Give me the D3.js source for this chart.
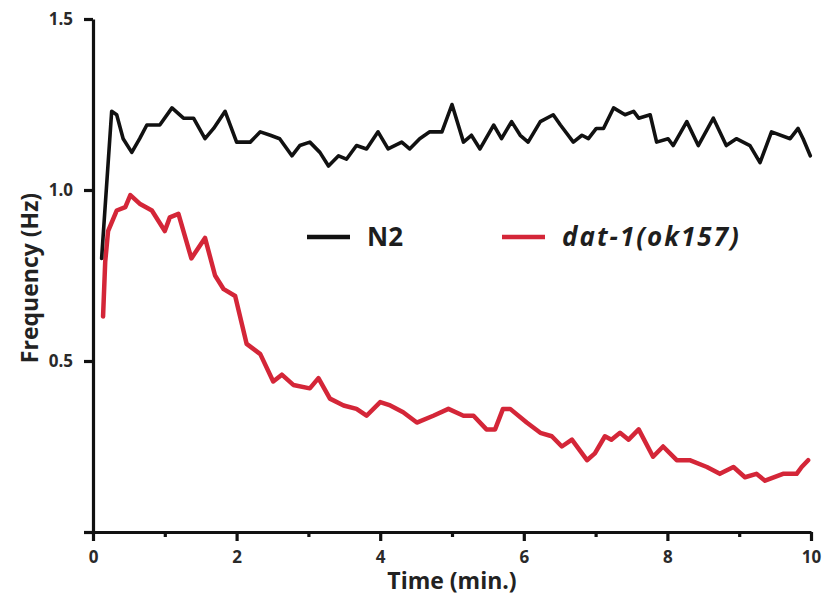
<!DOCTYPE html>
<html>
<head>
<meta charset="utf-8">
<script src="https://cdn.jsdelivr.net/npm/d3@7"></script>
<style>
  html, body { margin: 0; padding: 0; background: #fff; }
  svg { display: block; }
  text { font-family: "Open Sans", "Noto Sans", sans-serif; }
</style>
</head>
<body>
<svg id="chart" width="822" height="601"></svg>
<script>
// Wild-type N2 bending frequency over time
const n2Time = [0.12, 0.26, 0.33, 0.42, 0.54, 0.65, 0.75, 0.93, 1.10, 1.26, 1.40, 1.56, 1.68, 1.84, 2.00,
  2.19, 2.33, 2.47, 2.60, 2.77, 2.88, 3.02, 3.16, 3.28, 3.42, 3.53, 3.67, 3.81, 3.97, 4.11, 4.30, 4.41,
  4.55, 4.69, 4.86, 5.00, 5.16, 5.27, 5.39, 5.58, 5.69, 5.83, 5.95, 6.06, 6.23, 6.41, 6.51, 6.69, 6.81,
  6.90, 7.01, 7.11, 7.25, 7.41, 7.53, 7.60, 7.76, 7.85, 8.01, 8.08, 8.27, 8.43, 8.64, 8.82, 8.96, 9.15,
  9.29, 9.45, 9.71, 9.82, 9.89, 9.99];
const n2Freq = [0.80, 1.23, 1.22, 1.15, 1.11, 1.15, 1.19, 1.19, 1.24, 1.21, 1.21, 1.15, 1.18, 1.23, 1.14,
  1.14, 1.17, 1.16, 1.15, 1.10, 1.13, 1.14, 1.11, 1.07, 1.10, 1.09, 1.13, 1.12, 1.17, 1.12, 1.14, 1.12,
  1.15, 1.17, 1.17, 1.25, 1.14, 1.16, 1.12, 1.19, 1.15, 1.20, 1.16, 1.14, 1.20, 1.22, 1.19, 1.14, 1.16,
  1.15, 1.18, 1.18, 1.24, 1.22, 1.23, 1.21, 1.22, 1.14, 1.15, 1.13, 1.20, 1.13, 1.21, 1.13, 1.15, 1.13,
  1.08, 1.17, 1.15, 1.18, 1.15, 1.10];

// dat-1(ok157) mutant bending frequency over time
const datTime = [0.14, 0.17, 0.21, 0.33, 0.45, 0.52, 0.65, 0.82, 1.00, 1.07, 1.19, 1.37, 1.56, 1.70, 1.82,
  1.98, 2.14, 2.33, 2.51, 2.63, 2.79, 3.02, 3.14, 3.30, 3.49, 3.67, 3.81, 4.00, 4.14, 4.32, 4.51, 4.74,
  4.95, 5.16, 5.30, 5.48, 5.60, 5.71, 5.81, 6.04, 6.23, 6.39, 6.53, 6.67, 6.88, 6.99, 7.13, 7.22, 7.34,
  7.46, 7.60, 7.80, 7.94, 8.13, 8.31, 8.55, 8.73, 8.92, 9.08, 9.24, 9.36, 9.61, 9.80, 9.87, 9.96];
const datFreq = [0.63, 0.79, 0.88, 0.94, 0.95, 0.985, 0.96, 0.94, 0.88, 0.92, 0.93, 0.80, 0.86, 0.75, 0.71,
  0.69, 0.55, 0.52, 0.44, 0.46, 0.43, 0.42, 0.45, 0.39, 0.37, 0.36, 0.34, 0.38, 0.37, 0.35, 0.32, 0.34,
  0.36, 0.34, 0.34, 0.30, 0.30, 0.36, 0.36, 0.32, 0.29, 0.28, 0.25, 0.27, 0.21, 0.23, 0.28, 0.27, 0.29,
  0.27, 0.30, 0.22, 0.25, 0.21, 0.21, 0.19, 0.17, 0.19, 0.16, 0.17, 0.15, 0.17, 0.17, 0.19, 0.21];

const xMajorTicks = [0, 2, 4, 6, 8, 10];
const xMinorTicks = [1, 3, 5, 7, 9];
const yTicks = [0, 0.5, 1.0, 1.5];
const yTickLabels = ["", "0.5", "1.0", "1.5"];

const seriesNames = ["N2", "dat-1(ok157)"];
const seriesColors = ["#111111", "#d42638"];

const svg = d3.select("#chart");
const x = d3.scaleLinear().domain([0, 10]).range([93, 811]);
const y = d3.scaleLinear().domain([0, 1.5]).range([532, 19]);

// axes
const axisColor = "#111";
const yAxis = svg.append("g").attr("transform", `translate(${x(0)},0)`)
  .call(d3.axisLeft(y).tickValues(yTicks).tickSize(9).tickSizeOuter(0).tickPadding(11)
    .tickFormat((d, i) => yTickLabels[i]));
const xMinor = svg.append("g").attr("transform", `translate(0,${y(0)})`)
  .call(d3.axisBottom(x).tickValues(xMinorTicks).tickSize(5).tickSizeOuter(0).tickFormat(""));
const xAxis = svg.append("g").attr("transform", `translate(0,${y(0)})`)
  .call(d3.axisBottom(x).tickValues(xMajorTicks).tickSize(9).tickSizeOuter(0).tickPadding(10)
    .tickFormat(d3.format("d")));

[yAxis, xMinor, xAxis].forEach(g => {
  g.selectAll("path.domain").attr("stroke", axisColor).attr("stroke-width", 3.2);
  g.selectAll(".tick line").attr("stroke", axisColor).attr("stroke-width", 3.2);
  g.selectAll(".tick text").attr("fill", "#2a2a2a")
    .style("font-size", "17px").style("font-weight", "700")
    .style("font-family", "'Open Sans', sans-serif");
});
xMinor.select("path.domain").remove();

// axis titles
svg.append("text")
  .attr("x", 452).attr("y", 589)
  .attr("text-anchor", "middle")
  .style("font-size", "23px").style("font-weight", "700").attr("fill", "#222")
  .text("Time (min.)");
svg.append("text")
  .attr("transform", "translate(38,278) rotate(-90)")
  .attr("text-anchor", "middle")
  .style("font-size", "23px").style("font-weight", "700").attr("fill", "#222")
  .text("Frequency (Hz)");

// series lines
const line = d3.line().x(d => x(d[0])).y(d => y(d[1]));
const n2Data = n2Time.map((t, i) => [t, n2Freq[i]]);
const datData = datTime.map((t, i) => [t, datFreq[i]]);

svg.append("path").datum(datData)
  .attr("d", line).attr("fill", "none")
  .attr("stroke", seriesColors[1]).attr("stroke-width", 4.5)
  .attr("stroke-linejoin", "round").attr("stroke-linecap", "round");
svg.append("path").datum(n2Data)
  .attr("d", line).attr("fill", "none")
  .attr("stroke", seriesColors[0]).attr("stroke-width", 3.6)
  .attr("stroke-linejoin", "round").attr("stroke-linecap", "round");

// legend
const legendItems = [
  { x0: 307, x1: 350, tx: 367, name: seriesNames[0], color: seriesColors[0], italic: false, spacing: 0 },
  { x0: 502, x1: 545, tx: 562, name: seriesNames[1], color: seriesColors[1], italic: true, spacing: 2 }
];
const legendY = 237;
const lg = svg.append("g");
legendItems.forEach(item => {
  lg.append("line")
    .attr("x1", item.x0).attr("x2", item.x1)
    .attr("y1", legendY).attr("y2", legendY)
    .attr("stroke", item.color).attr("stroke-width", 4.5);
  lg.append("text")
    .attr("x", item.tx).attr("y", legendY)
    .attr("dy", "0.36em")
    .style("font-size", "26px").style("font-weight", "700")
    .style("font-style", item.italic ? "italic" : "normal")
    .style("letter-spacing", item.spacing + "px")
    .attr("fill", "#1e1e1e")
    .text(item.name);
});
</script>
</body>
</html>
